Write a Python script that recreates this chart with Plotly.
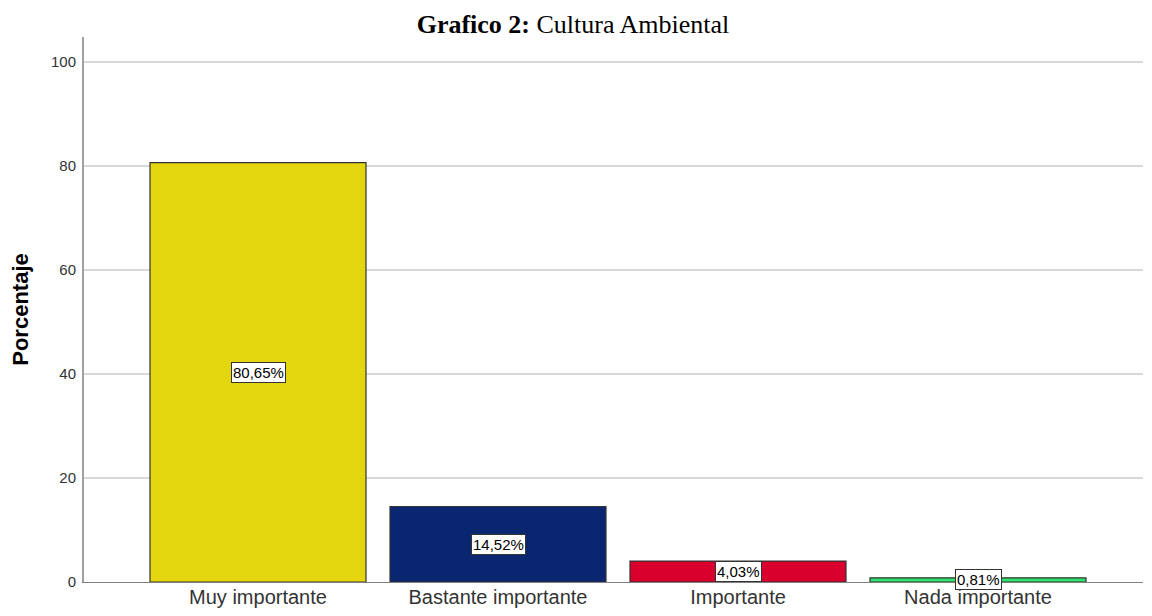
import plotly.graph_objects as go

categories = ['Muy importante', 'Bastante importante', 'Importante', 'Nada importante']
porcentajes = [80.65, 14.52, 4.03, 0.81]
colores = ['#E3D60F', '#0B2670', '#D9002E', '#2EE36C']
y_ticks = [0, 20, 40, 60, 80, 100]

fig = go.Figure(data=[
    go.Bar(
        x=categories,
        y=porcentajes,
        width=0.9,
        marker=dict(color=colores, line=dict(color='#333333', width=1.2)),
        hovertemplate='%{x}: %{y:.2f}%<extra></extra>',
    )
])

# Etiquetas de valor en el centro de cada barra
for cat, val in zip(categories, porcentajes):
    fig.add_annotation(
        x=cat, y=val / 2,
        text=f'{val:.2f}%'.replace('.', ','),
        showarrow=False,
        font=dict(family='Liberation Sans, Arial', size=15, color='black'),
        bgcolor='white',
        bordercolor='#333333',
        borderwidth=1,
        borderpad=1,
    )

# La pagina tiene 8px de margen, por eso la figura es 1136x600
fig.update_layout(
    width=1136,
    height=600,
    title=dict(
        text='<b>Grafico 2:</b> Cultura Ambiental',
        x=565 / 1136,
        xanchor='center',
        y=1 - 16 / 600,
        yanchor='middle',
        font=dict(family='Liberation Serif, Times New Roman', size=26, color='black'),
    ),
    plot_bgcolor='white',
    paper_bgcolor='white',
    showlegend=False,
    margin=dict(t=29, l=76, r=1, b=26, autoexpand=False),
    bargap=0.1,
)

fig.update_xaxes(
    range=[-0.725, 3.6875],
    automargin=False,
    showline=True,
    linecolor='#808080',
    linewidth=1.2,
    ticks='',
    showgrid=False,
    tickfont=dict(family='Liberation Sans, Arial', size=20, color='#333333'),
    ticklabelstandoff=-3,
)

fig.update_yaxes(
    range=[0, 104.8],
    automargin=False,
    tickvals=y_ticks,
    showline=True,
    linecolor='#a0a0a0',
    linewidth=2,
    ticks='',
    showgrid=True,
    gridcolor='#d9d9d9',
    gridwidth=1.5,
    zeroline=False,
    tickfont=dict(family='Liberation Sans, Arial', size=15, color='#333333'),
    ticklabelstandoff=3,
    title=dict(
        text='<b>Porcentaje</b>',
        font=dict(family='Liberation Sans, Arial', size=22, color='black'),
        standoff=18,
    ),
)

fig.write_html('out.html')
